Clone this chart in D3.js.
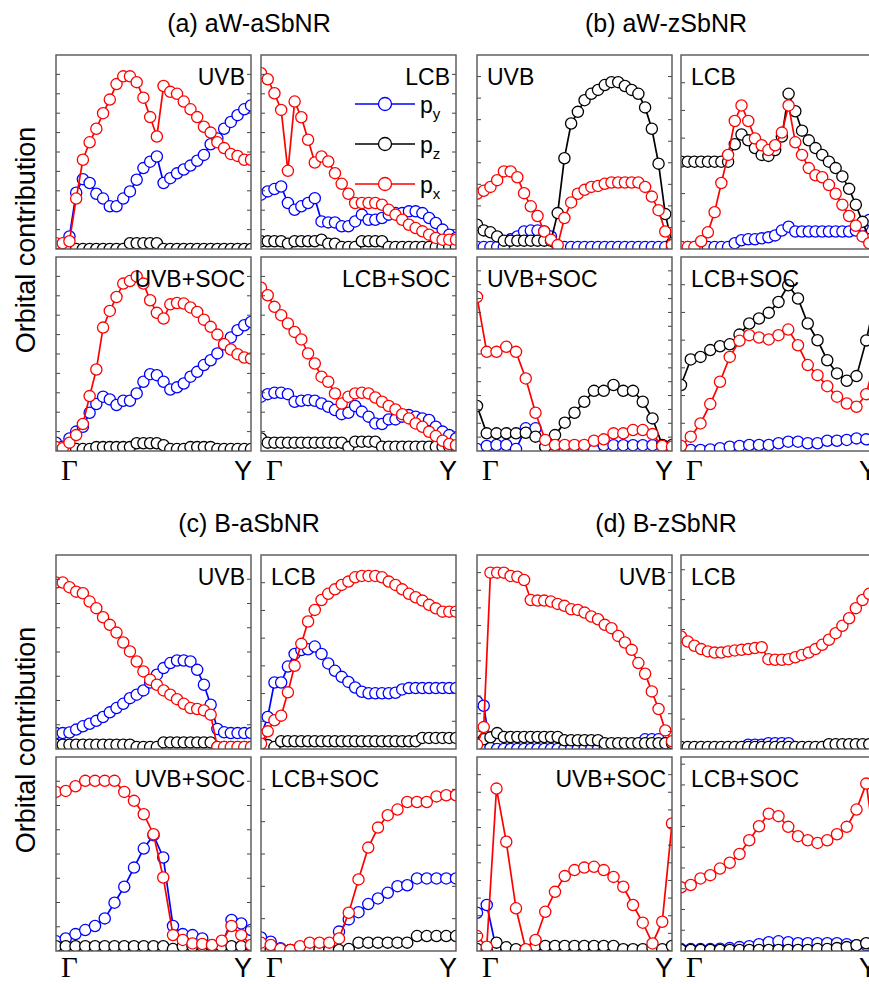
<!DOCTYPE html>
<html>
<head>
<meta charset="utf-8">
<script src="https://cdn.jsdelivr.net/npm/d3@7"></script>
<style>
  body { margin: 0; background: #fff; }
  text { font-family: "Liberation Sans", Arial, sans-serif; fill: #000; }
</style>
</head>
<body>
<div id="chart"></div>
<script>
// Orbital contributions (fraction of panel height)
// (a) aW-aSbNR
var aUVB_py = [0.02,0.02,0.065,0.29,0.36,0.34,0.285,0.26,0.22,0.22,0.26,0.297,0.357,0.417,0.45,0.477,0.34,0.365,0.39,0.41,0.43,0.455,0.485,0.54,0.57,0.62,0.655,0.69,0.72,0.74];
var aUVB_pz = [0,0,0,0,0,0,0,0,0,0,0,0.03,0.03,0.03,0.03,0.03,0,0,0,0,0,0,0,0,0,0,0,0,0,0];
var aUVB_px = [0.03,0.03,0.04,0.26,0.46,0.55,0.62,0.70,0.77,0.85,0.89,0.89,0.86,0.78,0.68,0.58,0.84,0.81,0.80,0.76,0.72,0.68,0.63,0.60,0.55,0.52,0.49,0.48,0.46,0.46];
var aLCB_py = [0.28,0.297,0.309,0.322,0.237,0.202,0.22,0.237,0.262,0.142,0.137,0.137,0.117,0.117,0.142,0.177,0.151,0.151,0.16,0.177,0.185,0.185,0.194,0.194,0.185,0.16,0.134,0.10,0.074,0.057];
var aLCB_pz = [0.04,0.04,0.04,0.04,0.027,0.04,0.04,0.04,0.04,0.048,0.027,0.027,0.01,0.01,0.01,0.04,0.04,0.04,0.04,0.01,0.01,0.01,0.01,0.01,0.01,0.01,0.01,0.01,0.01,0.01];
var aLCB_px = [0.906,0.875,0.803,0.717,0.403,0.76,0.679,0.563,0.446,0.477,0.451,0.391,0.336,0.285,0.237,0.237,0.237,0.237,0.228,0.202,0.177,0.151,0.125,0.108,0.091,0.074,0.057,0.048,0.048,0.048];
var aUVBSOC_py = [0.043,0.022,0.065,0.10,0.125,0.197,0.242,0.28,0.266,0.237,0.259,0.259,0.297,0.357,0.396,0.391,0.357,0.317,0.328,0.348,0.383,0.408,0.443,0.468,0.503,0.55,0.585,0.623,0.648,0.665];
var aUVBSOC_pz = [0.01,0.01,0.01,0.01,0.01,0.01,0.02,0.02,0.02,0.02,0.02,0.02,0.04,0.04,0.04,0.04,0.03,0.01,0.01,0.01,0.02,0.02,0.02,0.02,0.01,0.01,0.01,0.01,0.01,0.01];
var aUVBSOC_px = [0.02,0.014,0.043,0.082,0.139,0.283,0.42,0.636,0.722,0.794,0.863,0.876,0.90,0.863,0.777,0.712,0.683,0.756,0.763,0.76,0.74,0.717,0.677,0.64,0.60,0.55,0.523,0.499,0.482,0.477];
var aLCBSOC_py = [0.28,0.293,0.30,0.30,0.293,0.254,0.259,0.262,0.259,0.245,0.228,0.211,0.19,0.197,0.232,0.203,0.177,0.142,0.139,0.163,0.163,0.177,0.185,0.177,0.168,0.16,0.125,0.10,0.082,0.065];
var aLCBSOC_pz = [0.065,0.043,0.043,0.043,0.043,0.043,0.043,0.043,0.043,0.043,0.043,0.043,0.043,0.02,0.048,0.048,0.048,0.048,0.022,0.022,0.022,0.022,0.022,0.022,0.022,0.022,0.022,0.022,0.022,0.022];
var aLCBSOC_px = [0.842,0.803,0.743,0.70,0.657,0.614,0.575,0.503,0.451,0.383,0.357,0.297,0.245,0.28,0.297,0.30,0.297,0.276,0.254,0.232,0.214,0.19,0.168,0.142,0.125,0.099,0.077,0.053,0.036,0.03];

// (b) aW-zSbNR
var bUVB_py = [0.01,0.01,0.01,0.01,0.01,0.05,0.065,0.09,0.095,0.095,0.09,0.065,0.01,0.01,0.01,0.01,0.01,0.01,0.01,0.01,0.01,0.01,0.01,0.01,0.01,0.01,0.01,0.01,0.01,0.01];
var bUVB_pz = [0.125,0.096,0.086,0.065,0.043,0.043,0.043,0.043,0.043,0.043,0.043,0.043,0.185,0.468,0.647,0.707,0.767,0.80,0.82,0.845,0.86,0.86,0.84,0.82,0.80,0.73,0.62,0.44,0.18,0.03];
var bUVB_px = [0.285,0.30,0.32,0.355,0.40,0.40,0.37,0.288,0.22,0.17,0.09,0.048,0.02,0.16,0.24,0.285,0.305,0.32,0.325,0.336,0.343,0.343,0.343,0.343,0.343,0.32,0.27,0.20,0.09,0.02];
var bLCB_py = [0.01,0.01,0.01,0.01,0.01,0.01,0.01,0.01,0.03,0.045,0.05,0.05,0.055,0.06,0.07,0.095,0.115,0.09,0.09,0.09,0.09,0.09,0.09,0.09,0.09,0.09,0.095,0.12,0.15,0.15];
var bLCB_pz = [0.45,0.45,0.45,0.45,0.45,0.45,0.45,0.45,0.54,0.59,0.56,0.52,0.485,0.48,0.51,0.58,0.80,0.71,0.61,0.56,0.52,0.485,0.45,0.417,0.374,0.31,0.228,0.14,0.05,0.02];
var bLCB_px = [0.01,0.01,0.01,0.04,0.086,0.19,0.34,0.485,0.66,0.74,0.66,0.57,0.535,0.51,0.535,0.60,0.74,0.55,0.485,0.417,0.38,0.37,0.33,0.285,0.228,0.17,0.12,0.065,0.03,0.01];
var bUVBSOC_py = [0.01,0.026,0.031,0.031,0.01,0.117,0.117,0.02,0.005,0.005,0.005,0.005,0.005,0.03,0.03,0.03,0.03,0.03,0.03,0.03,0.01];
var bUVBSOC_pz = [0.232,0.091,0.091,0.091,0.091,0.094,0.074,0.022,0.082,0.146,0.197,0.254,0.31,0.31,0.34,0.31,0.31,0.254,0.168,0.031,0.031];
var bUVBSOC_px = [0.794,0.511,0.511,0.537,0.511,0.374,0.197,0.057,0.031,0.031,0.031,0.031,0.053,0.06,0.091,0.091,0.108,0.108,0.087,0.026,0.022];
var bLCBSOC_py = [0.014,0.005,0.005,0.008,0.014,0.022,0.026,0.031,0.031,0.031,0.04,0.048,0.048,0.04,0.04,0.053,0.053,0.057,0.065,0.06,0.07];
var bLCBSOC_pz = [0.34,0.472,0.485,0.52,0.54,0.55,0.60,0.657,0.683,0.712,0.768,0.854,0.786,0.657,0.571,0.468,0.40,0.362,0.386,0.57,0.80];
var bLCBSOC_px = [0.026,0.074,0.142,0.242,0.357,0.485,0.568,0.597,0.585,0.575,0.597,0.626,0.545,0.443,0.391,0.334,0.28,0.245,0.228,0.293,0.49];

// (c) B-aSbNR
var cUVB_py = [0.082,0.082,0.085,0.10,0.117,0.13,0.145,0.165,0.189,0.211,0.233,0.262,0.28,0.302,0.343,0.383,0.417,0.443,0.456,0.456,0.451,0.408,0.331,0.228,0.103,0.086,0.082,0.082,0.082,0.082];
var cUVB_pz = [0.022,0.022,0.022,0.022,0.022,0.022,0.022,0.022,0.022,0.022,0.022,0.022,0.01,0.01,0.01,0.01,0.034,0.034,0.034,0.034,0.034,0.034,0.034,0.034,0.01,0.01,0.01,0.01,0.01,0.01];
var cUVB_px = [0.858,0.858,0.834,0.811,0.803,0.76,0.726,0.679,0.64,0.60,0.549,0.503,0.451,0.40,0.357,0.331,0.302,0.28,0.257,0.233,0.211,0.206,0.199,0.177,0.01,0.01,0.01,0.01,0.01,0.01];
var cLCB_py = [0.07,0.165,0.343,0.343,0.425,0.49,0.51,0.514,0.528,0.49,0.441,0.403,0.372,0.346,0.317,0.295,0.287,0.287,0.287,0.287,0.29,0.307,0.314,0.314,0.314,0.314,0.314,0.314,0.314,0.314];
var cLCB_pz = [0.02,0.02,0.01,0.04,0.04,0.04,0.04,0.04,0.04,0.04,0.04,0.04,0.04,0.04,0.04,0.04,0.04,0.04,0.04,0.04,0.04,0.04,0.04,0.04,0.057,0.057,0.057,0.057,0.057,0.057];
var cLCB_px = [0.027,0.091,0.148,0.172,0.292,0.429,0.542,0.657,0.717,0.768,0.80,0.823,0.846,0.863,0.885,0.892,0.892,0.892,0.885,0.863,0.846,0.823,0.80,0.782,0.765,0.743,0.725,0.708,0.708,0.708];
var cUVBSOC_py = [0.05,0.065,0.087,0.108,0.129,0.168,0.249,0.331,0.43,0.528,0.597,0.482,0.129,0.087,0.082,0.065,0.03,0.03,0.16,0.142,0.108];
var cUVBSOC_pz = [0.025,0.025,0.025,0.025,0.025,0.025,0.025,0.025,0.025,0.025,0.025,0.025,0.01,0.025,0.025,0.025,0.025,0.025,0.025,0.025,0.025];
var cUVBSOC_px = [0.82,0.825,0.849,0.877,0.877,0.877,0.877,0.82,0.774,0.705,0.602,0.379,0.082,0.057,0.039,0.036,0.031,0.053,0.129,0.082,0.031];
var cLCBSOC_py = [0.07,0.048,0.014,0.005,0.005,0.01,0.01,0.02,0.10,0.163,0.20,0.242,0.271,0.30,0.334,0.339,0.374,0.374,0.374,0.374,0.374];
var cLCBSOC_pz = [0.01,0.005,0.005,0.005,0.005,0.005,0.005,0.005,0.005,0.01,0.043,0.043,0.043,0.043,0.043,0.043,0.077,0.077,0.077,0.077,0.077];
var cLCBSOC_px = [0.043,0.031,0.01,0.005,0.025,0.043,0.043,0.043,0.065,0.197,0.369,0.533,0.636,0.70,0.729,0.768,0.768,0.768,0.797,0.803,0.803];

// (d) B-zSbNR
var dUVB_py = [0.245,0.223,0.005,0,0,0,0,0,0,0,0,0,0,0,0,0,0,0,0,0,0,0,0,0,0,0.05,0.05,0.05,0.03,0.01];
var dUVB_pz = [0.03,0.05,0.06,0.082,0.062,0.062,0.062,0.062,0.062,0.062,0.062,0.062,0.062,0.045,0.045,0.045,0.045,0.045,0.045,0.03,0.03,0.03,0.03,0.03,0.03,0.03,0.03,0.03,0.03,0.03];
var dUVB_px = [0.022,0.113,0.909,0.909,0.909,0.892,0.888,0.871,0.768,0.765,0.765,0.76,0.748,0.738,0.72,0.717,0.703,0.683,0.669,0.64,0.623,0.583,0.549,0.511,0.443,0.388,0.297,0.206,0.096,0.04];
var dLCB_py = [0,0,0,0,0,0,0,0,0,0,0.022,0.022,0.022,0.03,0.03,0.03,0.03,0,0,0,0,0,0,0,0,0,0,0,0,0];
var dLCB_pz = [0.01,0.01,0.01,0.01,0.01,0.01,0.01,0.01,0.01,0.01,0.01,0.01,0.01,0.01,0.01,0.01,0.01,0.01,0.01,0.01,0.01,0.01,0.025,0.025,0.025,0.025,0.025,0.025,0.025,0.025];
var dLCB_px = [0.58,0.554,0.532,0.515,0.503,0.497,0.497,0.503,0.508,0.511,0.515,0.52,0.525,0.463,0.46,0.46,0.463,0.473,0.485,0.497,0.515,0.537,0.563,0.597,0.635,0.674,0.726,0.768,0.80,0.83];
var dUVBSOC_py = [0.197,0.237,0.005,0,0,0,0,0,0,0,0,0,0,0,0,0,0,0,0,0,0];
var dUVBSOC_pz = [0.01,0.005,0.043,0.019,0.009,0.005,0.026,0.026,0.026,0.026,0.026,0.026,0.026,0.026,0.026,0.009,0.009,0.009,0.015,0.009,0.026];
var dUVBSOC_px = [0.077,0.022,0.837,0.563,0.22,0.009,0.057,0.202,0.305,0.386,0.417,0.43,0.434,0.417,0.382,0.331,0.237,0.146,0.039,0.151,0.657];
var dLCBSOC_py = [0.01,0.01,0.01,0.01,0.012,0.015,0.02,0.025,0.035,0.045,0.05,0.045,0.04,0.04,0.04,0.04,0.04,0.035,0.03,0.03,0.03];
var dLCBSOC_pz = [0.005,0.005,0.005,0.005,0.005,0.005,0.005,0.005,0.005,0.005,0.005,0.005,0.005,0.005,0.01,0.01,0.015,0.02,0.03,0.04,0.04];
var dLCBSOC_px = [0.328,0.34,0.374,0.391,0.425,0.455,0.50,0.571,0.643,0.708,0.695,0.64,0.592,0.571,0.557,0.571,0.602,0.64,0.729,0.863,0.50];

var blockTitles = ["(a) aW-aSbNR", "(b) aW-zSbNR", "(c) B-aSbNR", "(d) B-zSbNR"];
var orbitals = ["py", "pz", "px"];
var orbitalNames = ["y", "z", "x"];
var orbitalColors = ["#0000ff", "#000000", "#ff0000"];

// Figure size and panel grid
var svgWidth = 869;
var svgHeight = 984;
var panelW = 195;
var panelH = 194;
var colLeft = [56, 261, 477, 681];
var rowTop = [55, 257, 555, 757];

var svg = d3.select("#chart")
    .append("svg")
    .attr("width", svgWidth)
    .attr("height", svgHeight);

// Panel table: which arrays go where
var panels = [
    {label: "UVB",     col: 0, row: 0, anchor: "end",   step: 0.1,   py: aUVB_py, pz: aUVB_pz, px: aUVB_px},
    {label: "LCB",     col: 1, row: 0, anchor: "end",   step: 0.1,   py: aLCB_py, pz: aLCB_pz, px: aLCB_px, legend: true},
    {label: "UVB+SOC", col: 0, row: 1, anchor: "end",   step: 0.1,   py: aUVBSOC_py, pz: aUVBSOC_pz, px: aUVBSOC_px},
    {label: "LCB+SOC", col: 1, row: 1, anchor: "end",   step: 0.1,   py: aLCBSOC_py, pz: aLCBSOC_pz, px: aLCBSOC_px},
    {label: "UVB",     col: 2, row: 0, anchor: "start", step: 1/9,   py: bUVB_py, pz: bUVB_pz, px: bUVB_px},
    {label: "LCB",     col: 3, row: 0, anchor: "start", step: 1/7,   py: bLCB_py, pz: bLCB_pz, px: bLCB_px},
    {label: "UVB+SOC", col: 2, row: 1, anchor: "start", step: 1/14,  py: bUVBSOC_py, pz: bUVBSOC_pz, px: bUVBSOC_px},
    {label: "LCB+SOC", col: 3, row: 1, anchor: "start", step: 1/7,   py: bLCBSOC_py, pz: bLCBSOC_pz, px: bLCBSOC_px},
    {label: "UVB",     col: 0, row: 2, anchor: "end",   step: 0.125, py: cUVB_py, pz: cUVB_pz, px: cUVB_px},
    {label: "LCB",     col: 1, row: 2, anchor: "start", step: 1/7,   py: cLCB_py, pz: cLCB_pz, px: cLCB_px},
    {label: "UVB+SOC", col: 0, row: 3, anchor: "end",   step: 0.125, py: cUVBSOC_py, pz: cUVBSOC_pz, px: cUVBSOC_px},
    {label: "LCB+SOC", col: 1, row: 3, anchor: "start", step: 1/6,   py: cLCBSOC_py, pz: cLCBSOC_pz, px: cLCBSOC_px},
    {label: "UVB",     col: 2, row: 2, anchor: "end",   step: 1/11,  py: dUVB_py, pz: dUVB_pz, px: dUVB_px},
    {label: "LCB",     col: 3, row: 2, anchor: "start", step: 0.154, py: dLCB_py, pz: dLCB_pz, px: dLCB_px},
    {label: "UVB+SOC", col: 2, row: 3, anchor: "end",   step: 1/11,  py: dUVBSOC_py, pz: dUVBSOC_pz, px: dUVBSOC_px},
    {label: "LCB+SOC", col: 3, row: 3, anchor: "start", step: 0.107, py: dLCBSOC_py, pz: dLCBSOC_pz, px: dLCBSOC_px}
];

var yScale = d3.scaleLinear().domain([0, 1]).range([panelH, 0]);

panels.forEach(function(p, k) {
    var g = svg.append("g")
        .attr("transform", `translate(${colLeft[p.col]}, ${rowTop[p.row]})`);

    var n = p.px.length;
    var xScale = d3.scaleLinear().domain([0, n - 1]).range([0, panelW]);

    var clipId = "clip" + k;
    g.append("clipPath").attr("id", clipId)
        .append("rect").attr("width", panelW).attr("height", panelH);

    var plot = g.append("g").attr("clip-path", `url(#${clipId})`);

    var line = d3.line()
        .x((d, i) => xScale(i))
        .y(d => yScale(d));

    orbitals.forEach(function(o, j) {
        plot.append("path")
            .datum(p[o])
            .attr("d", line)
            .attr("fill", "none")
            .attr("stroke", orbitalColors[j])
            .attr("stroke-width", 1.7);

        plot.selectAll(".pt-" + o)
            .data(p[o])
            .enter()
            .append("circle")
            .attr("class", "pt-" + o)
            .attr("cx", (d, i) => xScale(i))
            .attr("cy", d => yScale(d))
            .attr("r", 5.6)
            .attr("fill", "#fff")
            .attr("stroke", orbitalColors[j])
            .attr("stroke-width", 1.3);
    });

    // inward ticks on both sides
    var tickVals = d3.range(p.step, 0.999, p.step);
    g.selectAll(".tl")
        .data(tickVals).enter().append("line")
        .attr("x1", 0).attr("x2", 4)
        .attr("y1", d => yScale(d)).attr("y2", d => yScale(d))
        .attr("stroke", "#444").attr("stroke-width", 1);
    g.selectAll(".tr")
        .data(tickVals).enter().append("line")
        .attr("x1", panelW - 4).attr("x2", panelW)
        .attr("y1", d => yScale(d)).attr("y2", d => yScale(d))
        .attr("stroke", "#444").attr("stroke-width", 1);

    g.append("rect")
        .attr("width", panelW).attr("height", panelH)
        .attr("fill", "none")
        .attr("stroke", "#555")
        .attr("stroke-width", 1.4);

    g.append("text")
        .attr("x", p.anchor === "end" ? panelW - 6 : 10)
        .attr("y", 30)
        .attr("text-anchor", p.anchor)
        .attr("font-size", 23)
        .text(p.label);

    // Gamma and Y under the lower panels (last row kept inside the page)
    if (p.row === 1 || p.row === 3) {
        var labelY = panelH + (p.row === 3 ? 26 : 29);
        g.append("text")
            .attr("x", 5).attr("y", labelY)
            .style("font-family", "'Liberation Serif', 'Times New Roman', serif")
            .attr("font-size", 29)
            .text("Γ");
        g.append("text")
            .attr("x", panelW + 1).attr("y", labelY)
            .attr("text-anchor", "end")
            .attr("font-size", 27)
            .text("Y");
    }

    if (p.legend) {
        var leg = g.append("g").attr("transform", "translate(94, 49)");
        orbitals.forEach(function(o, j) {
            var row = leg.append("g").attr("transform", `translate(0, ${j * 40})`);
            row.append("line")
                .attr("x1", 0).attr("x2", 60)
                .attr("stroke", orbitalColors[j]).attr("stroke-width", 1.7);
            row.append("circle")
                .attr("cx", 30).attr("r", 6.5)
                .attr("fill", "#fff")
                .attr("stroke", orbitalColors[j]).attr("stroke-width", 1.3);
            var t = row.append("text")
                .attr("x", 65).attr("y", 9)
                .attr("font-size", 23);
            t.append("tspan").text("p");
            t.append("tspan")
                .attr("font-size", 15)
                .attr("dy", 6)
                .text(orbitalNames[j]);
        });
    }
});

// block titles
var titleX = [249, 666, 249, 666];
var titleY = [32, 32, 532, 532];
blockTitles.forEach(function(t, i) {
    svg.append("text")
        .attr("x", titleX[i]).attr("y", titleY[i])
        .attr("text-anchor", "middle")
        .attr("font-size", 25)
        .text(t);
});

// y-axis labels
[240, 740].forEach(function(cy) {
    svg.append("text")
        .attr("transform", `translate(35, ${cy}) rotate(-90)`)
        .attr("text-anchor", "middle")
        .attr("font-size", 27)
        .text("Orbital contribution");
});
</script>
</body>
</html>
